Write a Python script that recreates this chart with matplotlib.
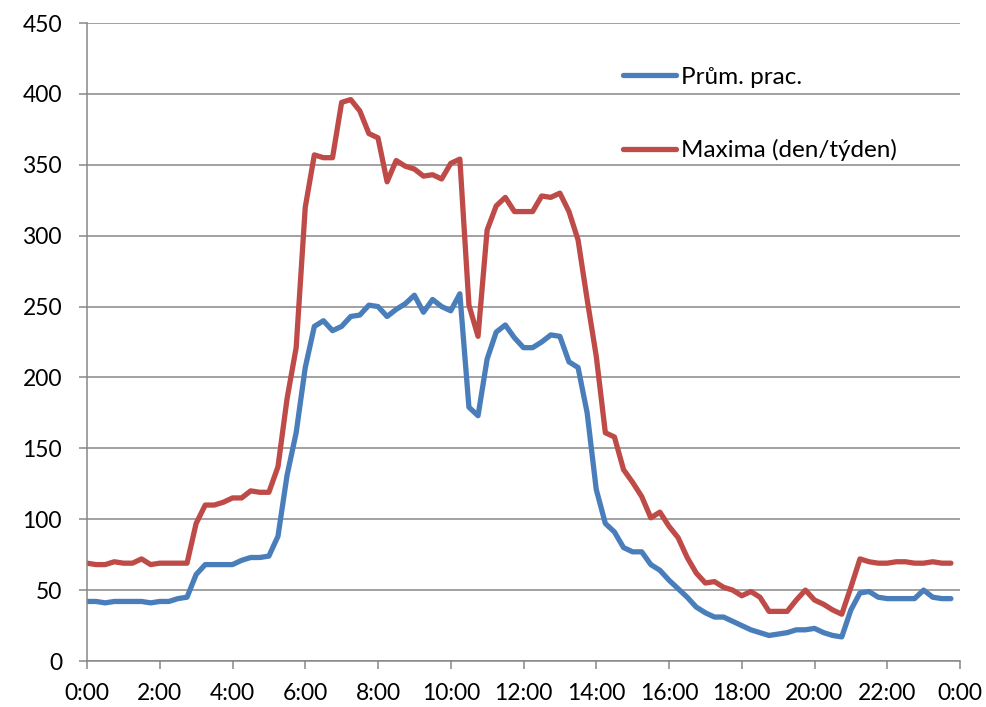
import matplotlib
matplotlib.use("Agg")
import matplotlib.pyplot as plt
import numpy as np

plt.rcParams['font.family'] = ['Lato', 'DejaVu Sans']

# 15-minute steps from 0:00 to 23:45 (hours)
times = np.arange(96) * 0.25

prumer = [42, 42, 41, 42, 42, 42, 42, 41, 42, 42, 44, 45,
          61, 68, 68, 68, 68, 71, 73, 73, 74, 88, 131, 161,
          207, 236, 240, 233, 236, 243, 244, 251, 250, 243, 248, 252,
          258, 246, 255, 250, 247, 259, 179, 173, 213, 232, 237, 228,
          221, 221, 225, 230, 229, 211, 207, 175, 121, 97, 91, 80,
          77, 77, 68, 64, 57, 51, 45, 38, 34, 31, 31, 28,
          25, 22, 20, 18, 19, 20, 22, 22, 23, 20, 18, 17,
          36, 48, 49, 45, 44, 44, 44, 44, 50, 45, 44, 44]

maxima = [69, 68, 68, 70, 69, 69, 72, 68, 69, 69, 69, 69,
          97, 110, 110, 112, 115, 115, 120, 119, 119, 137, 185, 221,
          320, 357, 355, 355, 394, 396, 388, 372, 369, 338, 353, 349,
          347, 342, 343, 340, 351, 354, 251, 229, 304, 321, 327, 317,
          317, 317, 328, 327, 330, 317, 297, 255, 215, 161, 158, 135,
          126, 116, 101, 105, 95, 87, 73, 62, 55, 56, 52, 50,
          46, 49, 45, 35, 35, 35, 43, 50, 43, 40, 36, 33,
          52, 72, 70, 69, 69, 70, 70, 69, 69, 70, 69, 69]

series_labels = ["Prům. prac.", "Maxima (den/týden)"]
x_tick_labels = ["0:00", "2:00", "4:00", "6:00", "8:00", "10:00", "12:00",
                 "14:00", "16:00", "18:00", "20:00", "22:00", "0:00"]
y_ticks = [0, 50, 100, 150, 200, 250, 300, 350, 400, 450]

fig = plt.figure(figsize=(9.86, 7.07), dpi=100)
ax = fig.add_axes([87/986, 46/707, 873/986, 638/707])

ax.plot(times, prumer, color='#4A7EBB', lw=3.8, label=series_labels[0],
        solid_joinstyle='round', solid_capstyle='round')
ax.plot(times, maxima, color='#BE4B48', lw=3.8, label=series_labels[1],
        solid_joinstyle='round', solid_capstyle='round')

ax.set_xlim(0, 24)
ax.set_ylim(0, 450)
ax.set_xticks(np.arange(0, 25, 2))
ax.set_xticklabels(x_tick_labels)
ax.set_yticks(y_ticks)

grid_c = '#878787'
ax.grid(axis='y', color=grid_c, lw=1.1)
ax.set_axisbelow(True)
for s in ['top', 'right']:
    ax.spines[s].set_visible(False)
for s in ['left', 'bottom']:
    ax.spines[s].set_color(grid_c)
    ax.spines[s].set_linewidth(1.1)
ax.tick_params(axis='both', colors=grid_c, labelcolor='black', labelsize=16.5,
               length=6, width=1.1, direction='out')
ax.tick_params(axis='y', pad=12)
ax.tick_params(axis='x', pad=10)

leg = ax.legend(loc='center left', bbox_to_anchor=(623/986, 1 - 114/707),
                bbox_transform=fig.transFigure, frameon=False, fontsize=17.5,
                handlelength=2.2, handletextpad=0.2, labelspacing=2.1,
                borderpad=0, borderaxespad=0)

fig.savefig('out.png', dpi=100)
